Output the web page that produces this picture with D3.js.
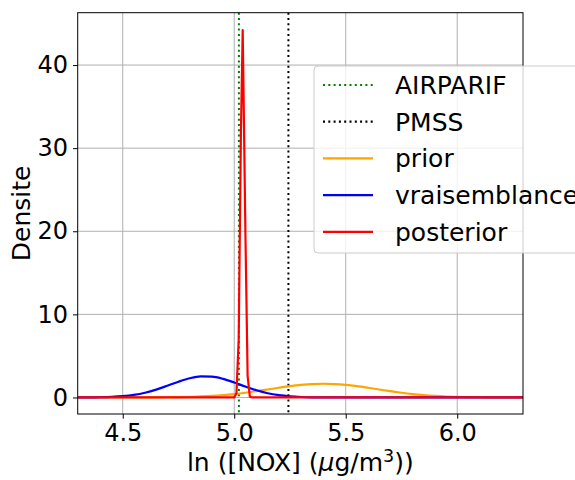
<!DOCTYPE html>
<html>
<head>
<meta charset="utf-8">
<script src="https://cdn.jsdelivr.net/npm/d3@7"></script>
<style>
  html, body { margin: 0; padding: 0; background: #fff; }
  svg { display: block; font-family: "DejaVu Sans", sans-serif; }
</style>
</head>
<body>
<svg id="chart" width="575" height="480"></svg>
<script>
// ---- data ----
const xTicks = [4.5, 5.0, 5.5, 6.0];
const yTicks = [0, 10, 20, 30, 40];
const xTickLabels = ["4.5", "5.0", "5.5", "6.0"];
const yTickLabels = ["0", "10", "20", "30", "40"];

const airparifX = 5.021;
const pmssX = 5.243;

const gridX = [4.30, 4.35, 4.40, 4.45, 4.50, 4.55, 4.60, 4.65, 4.70, 4.75, 4.80, 4.85, 4.90, 4.95,
               5.00, 5.05, 5.10, 5.15, 5.20, 5.25, 5.30, 5.35, 5.40, 5.45, 5.50, 5.55, 5.60, 5.65,
               5.70, 5.75, 5.80, 5.85, 5.90, 5.95, 6.00, 6.05, 6.10, 6.15, 6.20, 6.25, 6.30];
const priorY = [0.000, 0.000, 0.000, 0.000, 0.001, 0.003, 0.006, 0.012, 0.023, 0.042, 0.072, 0.119, 0.188, 0.284,
                0.411, 0.570, 0.756, 0.959, 1.166, 1.357, 1.513, 1.615, 1.650, 1.615, 1.513, 1.357, 1.166, 0.959,
                0.756, 0.570, 0.411, 0.284, 0.188, 0.119, 0.072, 0.042, 0.023, 0.012, 0.006, 0.003, 0.001];
const vraisemblanceY = [0.003, 0.010, 0.027, 0.068, 0.153, 0.311, 0.571, 0.944, 1.409, 1.897, 2.306, 2.529, 2.503, 2.236,
                        1.802, 1.311, 0.861, 0.510, 0.273, 0.131, 0.057, 0.022, 0.008, 0.003, 0.001, 0.000, 0.000, 0.000,
                        0.000, 0.000, 0.000, 0.000, 0.000, 0.000, 0.000, 0.000, 0.000, 0.000, 0.000, 0.000, 0.000];
const posteriorX = [4.30, 5.000, 5.010, 5.020, 5.030, 5.038, 5.050, 5.060, 5.070, 5.080, 6.30];
const posteriorY = [0.0, 0.01, 0.5, 7.0, 32.0, 44.2, 20.0, 2.6, 0.1, 0.0, 0.0];

const legendLabels = ["AIRPARIF", "PMSS", "prior", "vraisemblance", "posterior"];
const legendColors = ["#008000", "#000000", "#FFA500", "#0000FF", "#FF0000"];
const legendDotted = [true, true, false, false, false];

// ---- layout ----
const L = 77.7, R = 523, T = 12.7, B = 414;
const svg = d3.select("#chart");
const x = d3.scaleLinear().domain([4.298, 6.295]).range([L, R]);
const y = d3.scaleLinear().domain([-1.99, 46.3]).range([B, T]);

svg.append("defs").append("clipPath").attr("id", "clip")
  .append("rect").attr("x", L).attr("y", T).attr("width", R - L).attr("height", B - T);

// grid
const grid = svg.append("g");
grid.selectAll(".gx").data(xTicks).enter().append("line")
  .attr("x1", d => x(d)).attr("x2", d => x(d)).attr("y1", T).attr("y2", B)
  .attr("stroke", "#b0b0b0").attr("stroke-width", 1);
grid.selectAll(".gy").data(yTicks).enter().append("line")
  .attr("y1", d => y(d)).attr("y2", d => y(d)).attr("x1", L).attr("x2", R)
  .attr("stroke", "#b0b0b0").attr("stroke-width", 1);

// axes
const xAxis = d3.axisBottom(x).tickValues(xTicks).tickFormat((d, i) => xTickLabels[i]).tickSize(4.7).tickPadding(5);
const yAxis = d3.axisLeft(y).tickValues(yTicks).tickFormat((d, i) => yTickLabels[i]).tickSize(4.7).tickPadding(5);
const gx = svg.append("g").attr("transform", `translate(0,${B})`).call(xAxis);
const gy = svg.append("g").attr("transform", `translate(${L},0)`).call(yAxis);
[gx, gy].forEach(g => {
  g.select(".domain").remove();
  g.selectAll("text").attr("font-family", "DejaVu Sans").attr("font-size", 24).attr("fill", "#000");
  g.selectAll("line").attr("stroke", "#000").attr("stroke-width", 1);
});

// plot lines
const plot = svg.append("g").attr("clip-path", "url(#clip)");
plot.append("line").attr("x1", x(airparifX)).attr("x2", x(airparifX)).attr("y1", T).attr("y2", B)
  .attr("stroke", legendColors[0]).attr("stroke-width", 2).attr("stroke-dasharray", "2,3.3");
plot.append("line").attr("x1", x(pmssX)).attr("x2", x(pmssX)).attr("y1", T).attr("y2", B)
  .attr("stroke", legendColors[1]).attr("stroke-width", 2).attr("stroke-dasharray", "2,3.3");

const line = d3.line().x(d => x(d[0])).y(d => y(d[1]));
plot.append("path").datum(d3.zip(gridX, priorY)).attr("d", line.curve(d3.curveMonotoneX))
  .attr("fill", "none").attr("stroke", legendColors[2]).attr("stroke-width", 2.2);
plot.append("path").datum(d3.zip(gridX, vraisemblanceY)).attr("d", line.curve(d3.curveMonotoneX))
  .attr("fill", "none").attr("stroke", legendColors[3]).attr("stroke-width", 2.2);
plot.append("path").datum(d3.zip(posteriorX, posteriorY)).attr("d", d3.line().x(d => x(d[0])).y(d => y(d[1])))
  .attr("fill", "none").attr("stroke", legendColors[4]).attr("stroke-width", 2.2).attr("stroke-linejoin", "round");

// spines
svg.append("rect").attr("x", L).attr("y", T).attr("width", R - L).attr("height", B - T)
  .attr("fill", "none").attr("stroke", "#000").attr("stroke-width", 1);

// axis labels
const xl = svg.append("text").attr("x", (L + R) / 2).attr("y", 471).attr("text-anchor", "middle")
  .attr("font-size", 25).attr("fill", "#000");
xl.append("tspan").text("ln ([NOX] (");
xl.append("tspan").attr("font-style", "italic").text("μ");
xl.append("tspan").text("g/m");
xl.append("tspan").attr("dy", -9).attr("font-size", 17.5).text("3");
xl.append("tspan").attr("dy", 9).text("))");

svg.append("text").attr("transform", `translate(30,${(T + B) / 2}) rotate(-90)`)
  .attr("text-anchor", "middle").attr("font-size", 25).attr("fill", "#000").text("Densite");

// legend
const lg = svg.append("g");
lg.append("rect").attr("x", 314).attr("y", 66).attr("width", 290).attr("height", 187).attr("rx", 4)
  .attr("fill", "#fff").attr("fill-opacity", 0.8).attr("stroke", "#cccccc").attr("stroke-width", 1);
legendLabels.forEach((lab, i) => {
  const cy = 85 + i * 36.7;
  lg.append("line").attr("x1", 323).attr("x2", 373).attr("y1", cy).attr("y2", cy)
    .attr("stroke", legendColors[i]).attr("stroke-width", 2.2)
    .attr("stroke-dasharray", legendDotted[i] ? "2,3.3" : null);
  lg.append("text").attr("x", 395).attr("y", cy + 9).attr("font-size", 25).attr("fill", "#000").text(lab);
});
</script>
</body>
</html>
